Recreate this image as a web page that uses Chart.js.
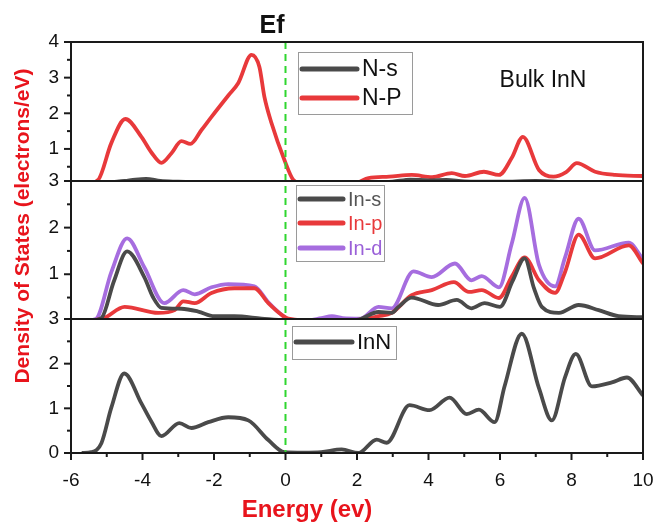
<!DOCTYPE html>
<html>
<head>
<meta charset="utf-8">
<script src="https://cdn.jsdelivr.net/npm/chart.js@4"></script>
<style>
  html, body { margin: 0; padding: 0; background: #fff; }
  #wrap { width: 660px; height: 527px; }
</style>
</head>
<body>
<div id="wrap"><canvas id="dos" width="660" height="527"></canvas></div>
<script>
// energy tick labels
const energyTicks = [-6, -4, -2, 0, 2, 4, 6, 8, 10];

// top panel: N partial DOS
const nsE   = [-5.6, -5, -4.5, -4.2, -3.9, -3.5, -3, -2, -1, 0, 1, 2, 3, 3.5, 4, 4.5, 5, 6, 7, 8, 9, 10];
const nsDos = [0, 0.05, 0.1, 0.14, 0.16, 0.1, 0.08, 0.05, 0.03, 0.01, 0, 0.02, 0.08, 0.14, 0.12, 0.13, 0.09, 0.08, 0.1, 0.06, 0.03, 0.02];

const npE   = [-5.6, -5.24, -4.87, -4.48, -4.03, -3.75, -3.47, -3.19, -2.91, -2.66, -2.35, -2.07, -1.6, -1.32, -0.95, -0.73, -0.59, -0.39, -0.03, 0.22, 0.5, 1.0, 1.5, 2.0, 2.32, 2.9, 3.53, 4.1, 4.65, 5.02, 5.55, 5.97, 6.33, 6.64, 7.09, 7.5, 7.85, 8.15, 8.66, 9.22, 10];
const npDos = [0, 0.13, 1.17, 1.84, 1.34, 0.9, 0.61, 0.88, 1.22, 1.14, 1.53, 1.9, 2.5, 2.85, 3.64, 3.3, 2.46, 1.72, 0.69, 0.13, 0.02, 0, 0, 0.05, 0.18, 0.22, 0.27, 0.21, 0.32, 0.24, 0.36, 0.27, 0.75, 1.34, 0.41, 0.22, 0.35, 0.6, 0.36, 0.27, 0.24];

// middle panel: In partial DOS
const insE   = [-5.5, -5.15, -4.8, -4.43, -3.95, -3.7, -3.47, -2.91, -2.44, -1.99, -1.43, -0.67, 0, 1, 2, 2.6, 2.97, 3.16, 3.53, 4.27, 4.79, 5.2, 5.57, 6.0, 6.35, 6.69, 6.95, 7.17, 7.65, 8.2, 8.76, 9.32, 10];
const insDos = [0, 0.06, 0.85, 1.49, 0.94, 0.5, 0.28, 0.26, 0.2, 0.1, 0.1, 0.05, 0.01, 0, 0.02, 0.19, 0.17, 0.3, 0.5, 0.34, 0.45, 0.27, 0.38, 0.3, 0.85, 1.34, 0.7, 0.3, 0.17, 0.34, 0.23, 0.1, 0.08];

const inpE   = [-5.5, -5.07, -4.5, -3.56, -3.1, -2.86, -2.54, -2.07, -1.43, -0.87, -0.48, -0.11, 0.08, 1, 2, 2.6, 2.97, 3.53, 4.09, 4.71, 5.13, 5.49, 5.97, 6.33, 6.69, 7.09, 7.54, 7.82, 8.2, 8.66, 9.6, 10];
const inpDos = [0, 0.06, 0.3, 0.17, 0.23, 0.42, 0.38, 0.6, 0.7, 0.7, 0.38, 0.13, 0.05, 0, 0.02, 0.1, 0.17, 0.55, 0.66, 0.83, 0.62, 0.66, 0.49, 0.95, 1.36, 0.87, 0.6, 1.05, 1.85, 1.34, 1.62, 1.23];

const indE   = [-5.6, -5.3, -4.87, -4.43, -3.95, -3.39, -2.86, -2.54, -2.07, -1.6, -0.87, -0.48, -0.11, 0.1, 0.6, 1.0, 1.3, 1.6, 2.1, 2.6, 2.97, 3.58, 4.09, 4.74, 5.2, 5.49, 5.97, 6.33, 6.69, 7.09, 7.54, 7.82, 8.2, 8.66, 9.6, 10];
const indDos = [0, 0.04, 1.05, 1.77, 1.15, 0.38, 0.66, 0.57, 0.72, 0.79, 0.74, 0.4, 0.13, 0.02, 0.01, 0.06, 0.1, 0.06, 0.05, 0.3, 0.27, 1.06, 0.94, 1.23, 0.87, 0.96, 0.72, 1.66, 2.64, 1.2, 0.74, 1.36, 2.19, 1.51, 1.68, 1.32];

// bottom panel: total DOS
const totE   = [-5.7, -5.43, -5.15, -4.87, -4.51, -4.03, -3.75, -3.47, -2.97, -2.63, -2.16, -1.6, -1.04, -0.48, -0.03, 0.5, 1.0, 1.57, 2.04, 2.55, 2.83, 3.47, 4.03, 4.59, 5.07, 5.41, 5.85, 6.13, 6.61, 7.09, 7.45, 7.82, 8.12, 8.57, 9.13, 9.55, 10];
const totDos = [0, 0.02, 0.22, 1.02, 1.78, 1.11, 0.7, 0.38, 0.67, 0.56, 0.69, 0.8, 0.73, 0.29, 0.02, 0.01, 0.02, 0.08, 0, 0.3, 0.23, 1.07, 0.96, 1.24, 0.87, 0.97, 0.69, 1.5, 2.67, 1.45, 0.73, 1.7, 2.22, 1.49, 1.58, 1.69, 1.29];

const FONT = "'Liberation Sans', Arial, sans-serif";
const RED = '#e8393b', GREY = '#4a4a4a', PURPLE = '#a66ddf';

const pts = (xs, ys) => xs.map((x, i) => ({x: x, y: ys[i]}));
const line = (label, xs, ys, color, axis) => ({
    label, data: pts(xs, ys), yAxisID: axis,
    borderColor: color, borderWidth: 3.8, pointRadius: 0,
    cubicInterpolationMode: 'monotone', fill: false
});

// one y axis per panel, stacked in one column
const panelAxis = (min, max, weight) => ({
    type: 'linear', position: 'left', stack: 'dos', stackWeight: weight,
    min, max, offset: false,
    grid: { display: false, drawTicks: false },
    border: { display: false },
    ticks: { font: { family: FONT, size: 19 }, color: '#111', padding: 12 },
    afterBuildTicks: (s) => {
        const t = [];
        for (let v = Math.ceil(min); v <= max + 1e-9; v++) if (v > min + 1e-9 || min === 0) t.push({value: v});
        s.ticks = t;
    },
    afterFit: (s) => { s.width = 71; s.paddingTop = 0; s.paddingBottom = 0; }
});

const panelLegends = [
    { box: [298, 52, 114, 62], font: 23, lineEnd: 357, textX: 362, rows: [
        { y: 69, label: 'N-s', color: GREY, text: '#111' },
        { y: 98, label: 'N-P', color: RED, text: '#111' } ] },
    { box: [296, 185, 88, 76], font: 20, lineEnd: 343, textX: 348, rows: [
        { y: 199, label: 'In-s', color: GREY, text: '#555' },
        { y: 223, label: 'In-p', color: RED, text: RED },
        { y: 248, label: 'In-d', color: PURPLE, text: '#9a60d8' } ] },
    { box: [292, 326, 104, 33], font: 22, lineEnd: 352, textX: 357, rows: [
        { y: 342, label: 'InN', color: GREY, text: '#111' } ] }
];

const deco = {
    id: 'deco',
    beforeDatasetDraw(chart, args) {
        const s = chart.scales[chart.data.datasets[args.index].yAxisID];
        const a = chart.chartArea, ctx = chart.ctx;
        ctx.save();
        ctx.beginPath();
        ctx.rect(a.left, s.top, a.right - a.left, s.bottom - s.top);
        ctx.clip();
    },
    afterDatasetDraw(chart) { chart.ctx.restore(); },
    afterDraw(chart) {
        const ctx = chart.ctx, a = chart.chartArea, xs = chart.scales.x;
        ctx.save();
        // Fermi level
        const x0 = xs.getPixelForValue(0);
        ctx.strokeStyle = '#2fd62f'; ctx.lineWidth = 2; ctx.setLineDash([7, 5]);
        ctx.beginPath(); ctx.moveTo(x0, a.top); ctx.lineTo(x0, a.bottom); ctx.stroke();
        ctx.setLineDash([]);
        // panel frames and y ticks
        ctx.strokeStyle = '#1a1a1a'; ctx.lineWidth = 2;
        ['y1', 'y2', 'y3'].forEach(id => {
            const s = chart.scales[id];
            ctx.strokeRect(a.left, s.top, a.right - a.left, s.bottom - s.top);
            for (let v = Math.ceil(s.min * 2) / 2; v <= s.max + 1e-9; v += 0.5) {
                const p = s.getPixelForValue(v), len = Number.isInteger(v) ? 7 : 4;
                ctx.beginPath(); ctx.moveTo(a.left - len, p); ctx.lineTo(a.left, p); ctx.stroke();
            }
        });
        for (let v = -6; v <= 10; v++) {
            const p = xs.getPixelForValue(v), len = v % 2 === 0 ? 7 : 4;
            ctx.beginPath(); ctx.moveTo(p, a.bottom); ctx.lineTo(p, a.bottom + len); ctx.stroke();
        }
        // legends
        panelLegends.forEach(lg => {
            ctx.strokeStyle = '#9a9a9a'; ctx.lineWidth = 1;
            ctx.strokeRect(lg.box[0] + 0.5, lg.box[1] + 0.5, lg.box[2], lg.box[3]);
            ctx.font = lg.font + 'px ' + FONT;
            ctx.textBaseline = 'middle'; ctx.textAlign = 'left';
            lg.rows.forEach(r => {
                ctx.strokeStyle = r.color; ctx.lineWidth = 5; ctx.lineCap = 'round';
                ctx.beginPath(); ctx.moveTo(lg.box[0] + 4, r.y); ctx.lineTo(lg.lineEnd, r.y); ctx.stroke();
                ctx.fillStyle = r.text;
                ctx.fillText(r.label, lg.textX, r.y + 1);
            });
        });
        // texts
        ctx.fillStyle = '#111'; ctx.textBaseline = 'alphabetic';
        ctx.font = '23px ' + FONT; ctx.textAlign = 'center';
        ctx.fillText('Bulk InN', 543, 87);
        ctx.font = 'bold 25px ' + FONT;
        ctx.fillText('Ef', 272, 33);
        ctx.fillStyle = '#e8141c';
        ctx.font = 'bold 24px ' + FONT;
        ctx.fillText('Energy (ev)', 307, 517);
        ctx.save();
        ctx.translate(29, 226); ctx.rotate(-Math.PI / 2);
        ctx.font = 'bold 21px ' + FONT;
        ctx.fillText('Density of States (electrons/eV)', 0, 0);
        ctx.restore();
        ctx.restore();
    }
};

const config = {
    type: 'line',
    data: {
        datasets: [
            line('N-s', nsE, nsDos, GREY, 'y1'),
            line('N-P', npE, npDos, RED, 'y1'),
            line('In-s', insE, insDos, GREY, 'y2'),
            line('In-p', inpE, inpDos, RED, 'y2'),
            line('In-d', indE, indDos, PURPLE, 'y2'),
            line('InN', totE, totDos, GREY, 'y3')
        ]
    },
    options: {
        responsive: false, animation: false,
        layout: { padding: { top: 42, right: 17, left: 0, bottom: 0 } },
        plugins: { legend: { display: false }, tooltip: { enabled: false } },
        scales: {
            x: {
                type: 'linear', position: 'bottom', min: -6, max: 10,
                grid: { display: false, drawTicks: false },
                border: { display: false },
                ticks: { font: { family: FONT, size: 19 }, color: '#111', padding: 16 },
                afterBuildTicks: (s) => { s.ticks = energyTicks.map(v => ({value: v})); },
                afterFit: (s) => { s.height = 74; s.paddingLeft = 0; s.paddingRight = 0; }
            },
            y3: panelAxis(0, 3, 134),
            y2: panelAxis(0.04, 3, 138),
            y1: panelAxis(0.1, 4, 139)
        }
    },
    plugins: [deco]
};

new Chart(document.getElementById('dos'), config);
</script>
</body>
</html>
